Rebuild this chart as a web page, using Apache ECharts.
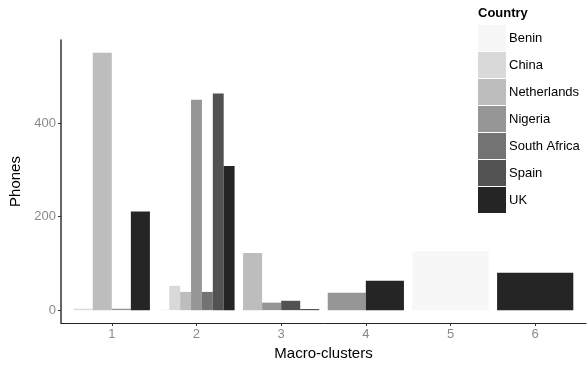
<!DOCTYPE html>
<html>
<head>
<meta charset="utf-8">
<script src="https://cdn.jsdelivr.net/npm/echarts@6/dist/echarts.min.js"></script>
<style>html,body{margin:0;padding:0;background:#fff}#c{width:588px;height:366px}</style>
</head>
<body>
<div id="c"></div>
<script>
// Data
var clusters = [1, 2, 3, 4, 5, 6];
var countries = ['Benin', 'China', 'Netherlands', 'Nigeria', 'South Africa', 'Spain', 'UK'];
var benin       = [null, 2,   null, null, 126,  null];
var china       = [3,    52,  null, null, null, null];
var netherlands = [550,  39,  122,  null, null, null];
var nigeria     = [3,    450, 16,   37,   null, null];
var southAfrica = [null, 39,  null, null, null, null];
var spain       = [null, 463, 20,   null, null, null];
var uk          = [211,  308, 2,    63,   null, 80];
var yTicks = [0, 200, 400];

var values = [benin, china, netherlands, nigeria, southAfrica, spain, uk];
var colors = ['#f7f7f7', '#d9d9d9', '#bdbdbd', '#969696', '#737373', '#525252', '#252525'];

// dodge positions per cluster (like ggplot position_dodge)
var series = countries.map(function (name, ci) {
  var data = [];
  clusters.forEach(function (cl, k) {
    var v = values[ci][k];
    if (v === null) return;
    var present = [];
    values.forEach(function (arr, j) { if (arr[k] !== null) present.push(j); });
    data.push([cl, v, present.indexOf(ci), present.length]);
  });
  return {
    name: name,
    type: 'custom',
    itemStyle: { color: colors[ci] },
    encode: { x: 0, y: 1 },
    renderItem: function (params, api) {
      var cl = api.value(0), v = api.value(1), idx = api.value(2), n = api.value(3);
      var w = 0.9 / n;
      var x0 = cl - 0.45 + idx * w;
      var p0 = api.coord([x0, 0]);
      var p1 = api.coord([x0 + w, v]);
      return {
        type: 'rect',
        shape: { x: p0[0], y: p1[1], width: p1[0] - p0[0], height: p0[1] - p1[1] },
        style: { fill: colors[ci] }
      };
    },
    data: data
  };
});

var chart = echarts.init(document.getElementById('c'));
chart.setOption({
  animation: false,
  textStyle: { fontFamily: 'Liberation Sans, Arial, sans-serif' },
  title: {
    text: 'Country', left: 478, top: 7, padding: 0,
    textStyle: { fontSize: 13, fontWeight: 'bold', color: '#000', fontFamily: 'Liberation Sans' }
  },
  legend: {
    orient: 'vertical', left: 478, top: 25, padding: 0,
    itemWidth: 28, itemHeight: 26, itemGap: 1,
    icon: 'rect',
    textStyle: { fontSize: 13, color: '#000', fontFamily: 'Liberation Sans', padding: [0, 0, 0, -2] },
    data: countries
  },
  grid: { left: 61, right: 2, top: 40, bottom: 41, containLabel: false },
  xAxis: {
    type: 'value', min: 0.4, max: 6.6,
    name: 'Macro-clusters', nameLocation: 'middle', nameGap: 23,
    nameTextStyle: { fontSize: 15, color: '#000', fontFamily: 'Liberation Sans' },
    splitLine: { show: false },
    axisLine: { show: true, onZero: false, lineStyle: { color: '#222', width: 1 } },
    axisTick: { show: true, length: 3, customValues: clusters, lineStyle: { color: '#333' } },
    axisLabel: { customValues: clusters, fontSize: 13, color: '#8a8a8a', margin: 5, fontFamily: 'Liberation Sans' }
  },
  yAxis: {
    type: 'value', min: -27.5, max: 577.5,
    name: 'Phones', nameLocation: 'middle', nameGap: 34, nameRotate: 90,
    nameTextStyle: { fontSize: 15, color: '#000', fontFamily: 'Liberation Sans' },
    splitLine: { show: false },
    axisLine: { show: true, onZero: false, lineStyle: { color: '#333', width: 1.5 } },
    axisTick: { show: true, length: 3, customValues: yTicks, lineStyle: { color: '#333' } },
    axisLabel: { customValues: yTicks, fontSize: 13, color: '#8a8a8a', margin: 5, fontFamily: 'Liberation Sans' }
  },
  series: series
});
</script>
</body>
</html>
